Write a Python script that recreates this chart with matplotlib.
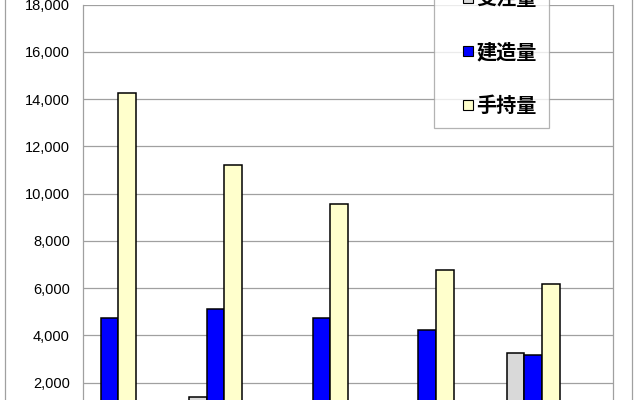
import matplotlib.pyplot as plt
from matplotlib.lines import Line2D
from matplotlib.ticker import FuncFormatter

# ==========================
# DATA
# ==========================

series_names = ["受注量", "建造量", "手持量"]
series_colors = ["#D9D9D9", "#0000FF", "#FFFFCC"]

orders = [700, 1380, 900, 1000, 3280]          # 受注量
built = [4760, 5110, 4720, 4230, 3170]         # 建造量
backlog = [14280, 11230, 9580, 6760, 6200]     # 手持量

y_ticks = [2000, 4000, 6000, 8000, 10000, 12000, 14000, 16000, 18000]

values = [orders, built, backlog]

# ==========================
# FIGURE
# ==========================

fig = plt.figure(figsize=(6.4, 4.0), dpi=100)

# plot area runs past the bottom edge (the source image is cropped)
ax = fig.add_axes([83 / 640, -0.075, 529.7 / 640, 1.06325])

n_groups = len(backlog)
n_slots = 6
width = 1 / n_slots

for k, (vals, color) in enumerate(zip(values, series_colors)):
    xs = [i + k * width for i in range(n_groups)]
    ax.bar(xs, vals, width, align="edge", color=color,
           edgecolor="black", linewidth=1.1, zorder=3)

ax.set_xlim(0, n_groups)
ax.set_ylim(0, 18000)
ax.set_xticks([])
ax.set_yticks(y_ticks)
ax.yaxis.set_major_formatter(FuncFormatter(lambda v, p: f"{int(v):,}"))
ax.tick_params(axis="y", length=0, pad=9.5, labelsize=10.5)
for lab in ax.get_yticklabels():
    lab.set_fontfamily("Liberation Sans")

ax.grid(axis="y", color="#A0A0A0", linewidth=0.9, zorder=0)
for side in ["left", "right"]:
    ax.spines[side].set_color("#A0A0A0")
    ax.spines[side].set_linewidth(0.9)
ax.spines["top"].set_visible(False)
ax.spines["bottom"].set_visible(False)

# outer chart-area border (only the sides are in frame)
for xpix in [5, 632]:
    fig.add_artist(Line2D([xpix / 640, xpix / 640], [0, 1],
                          transform=fig.transFigure,
                          color="#A0A0A0", linewidth=0.9))

# ==========================
# LEGEND
# ==========================

handles = [
    Line2D([], [], linestyle="none", marker="s", markersize=6.5,
           markerfacecolor=c, markeredgecolor="black", markeredgewidth=0.8)
    for c in series_colors
]

leg = ax.legend(
    handles, series_names,
    loc="lower left",
    bbox_to_anchor=(434 / 640, (400 - 128) / 400),
    bbox_transform=fig.transFigure,
    prop={"family": ["Noto Sans CJK JP", "DejaVu Sans"],
          "weight": "bold", "size": 14.5},
    frameon=True, fancybox=False, shadow=False,
    borderpad=0.6, labelspacing=1.62,
    handlelength=2.2, handletextpad=-0.7,
    borderaxespad=0,
)
leg.get_frame().set_edgecolor("#A0A0A0")
leg.get_frame().set_linewidth(0.9)
leg.set_zorder(5)

plt.savefig("out.png", dpi=100)
plt.close()
